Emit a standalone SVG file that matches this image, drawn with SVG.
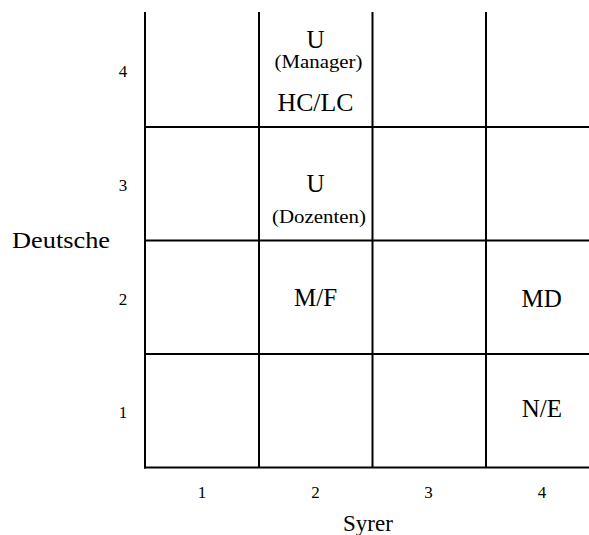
<svg xmlns="http://www.w3.org/2000/svg" width="589" height="535" viewBox="0 0 589 535">
<style>
.g{stroke:#000;stroke-width:2;fill:none}
text{font-family:"Liberation Serif","Times New Roman",serif;fill:#000;text-anchor:middle}
.ax{font-size:17px}
.lb{font-size:25px}
.sm{font-size:18px}
.tt{font-size:23px}
</style>
<rect width="589" height="535" fill="#fff"/>
<g id="grid" class="g">
<line x1="145" y1="12" x2="145" y2="468.5"/>
<line x1="259" y1="12" x2="259" y2="467.5"/>
<line x1="372.5" y1="12" x2="372.5" y2="467.5"/>
<line x1="486" y1="12" x2="486" y2="467.5"/>
<line x1="144" y1="127" x2="589" y2="127"/>
<line x1="144" y1="240.5" x2="589" y2="240.5"/>
<line x1="144" y1="354" x2="589" y2="354"/>
<line x1="144" y1="467.5" x2="589" y2="467.5"/>
</g>
<g id="rowLabels" class="ax">
<text x="123" y="77">4</text>
<text x="123" y="190.5">3</text>
<text x="123" y="304.5">2</text>
<text x="123" y="418">1</text>
</g>
<g id="colLabels" class="ax">
<text x="202" y="498">1</text>
<text x="315.5" y="498">2</text>
<text x="428.5" y="498">3</text>
<text x="542" y="498">4</text>
</g>
<g id="axisY"><text class="tt" x="61" y="248" textLength="98" lengthAdjust="spacingAndGlyphs">Deutsche</text></g>
<g id="axisX"><text class="tt" x="368" y="531">Syrer</text></g>
<g id="cell-2-4">
<text class="lb" x="315.5" y="48">U</text>
<text class="sm" x="318.5" y="68" textLength="88" lengthAdjust="spacingAndGlyphs">(Manager)</text>
<text class="lb" x="315.5" y="111" textLength="76" lengthAdjust="spacingAndGlyphs">HC/LC</text>
</g>
<g id="cell-2-3">
<text class="lb" x="315.5" y="191.5">U</text>
<text class="sm" x="319" y="223" textLength="94" lengthAdjust="spacingAndGlyphs">(Dozenten)</text>
</g>
<g id="cell-2-2"><text class="lb" x="315.5" y="305.5">M/F</text></g>
<g id="cell-4-2"><text class="lb" x="541.7" y="306.5">MD</text></g>
<g id="cell-4-1"><text class="lb" x="541.8" y="416.5">N/E</text></g>
</svg>
